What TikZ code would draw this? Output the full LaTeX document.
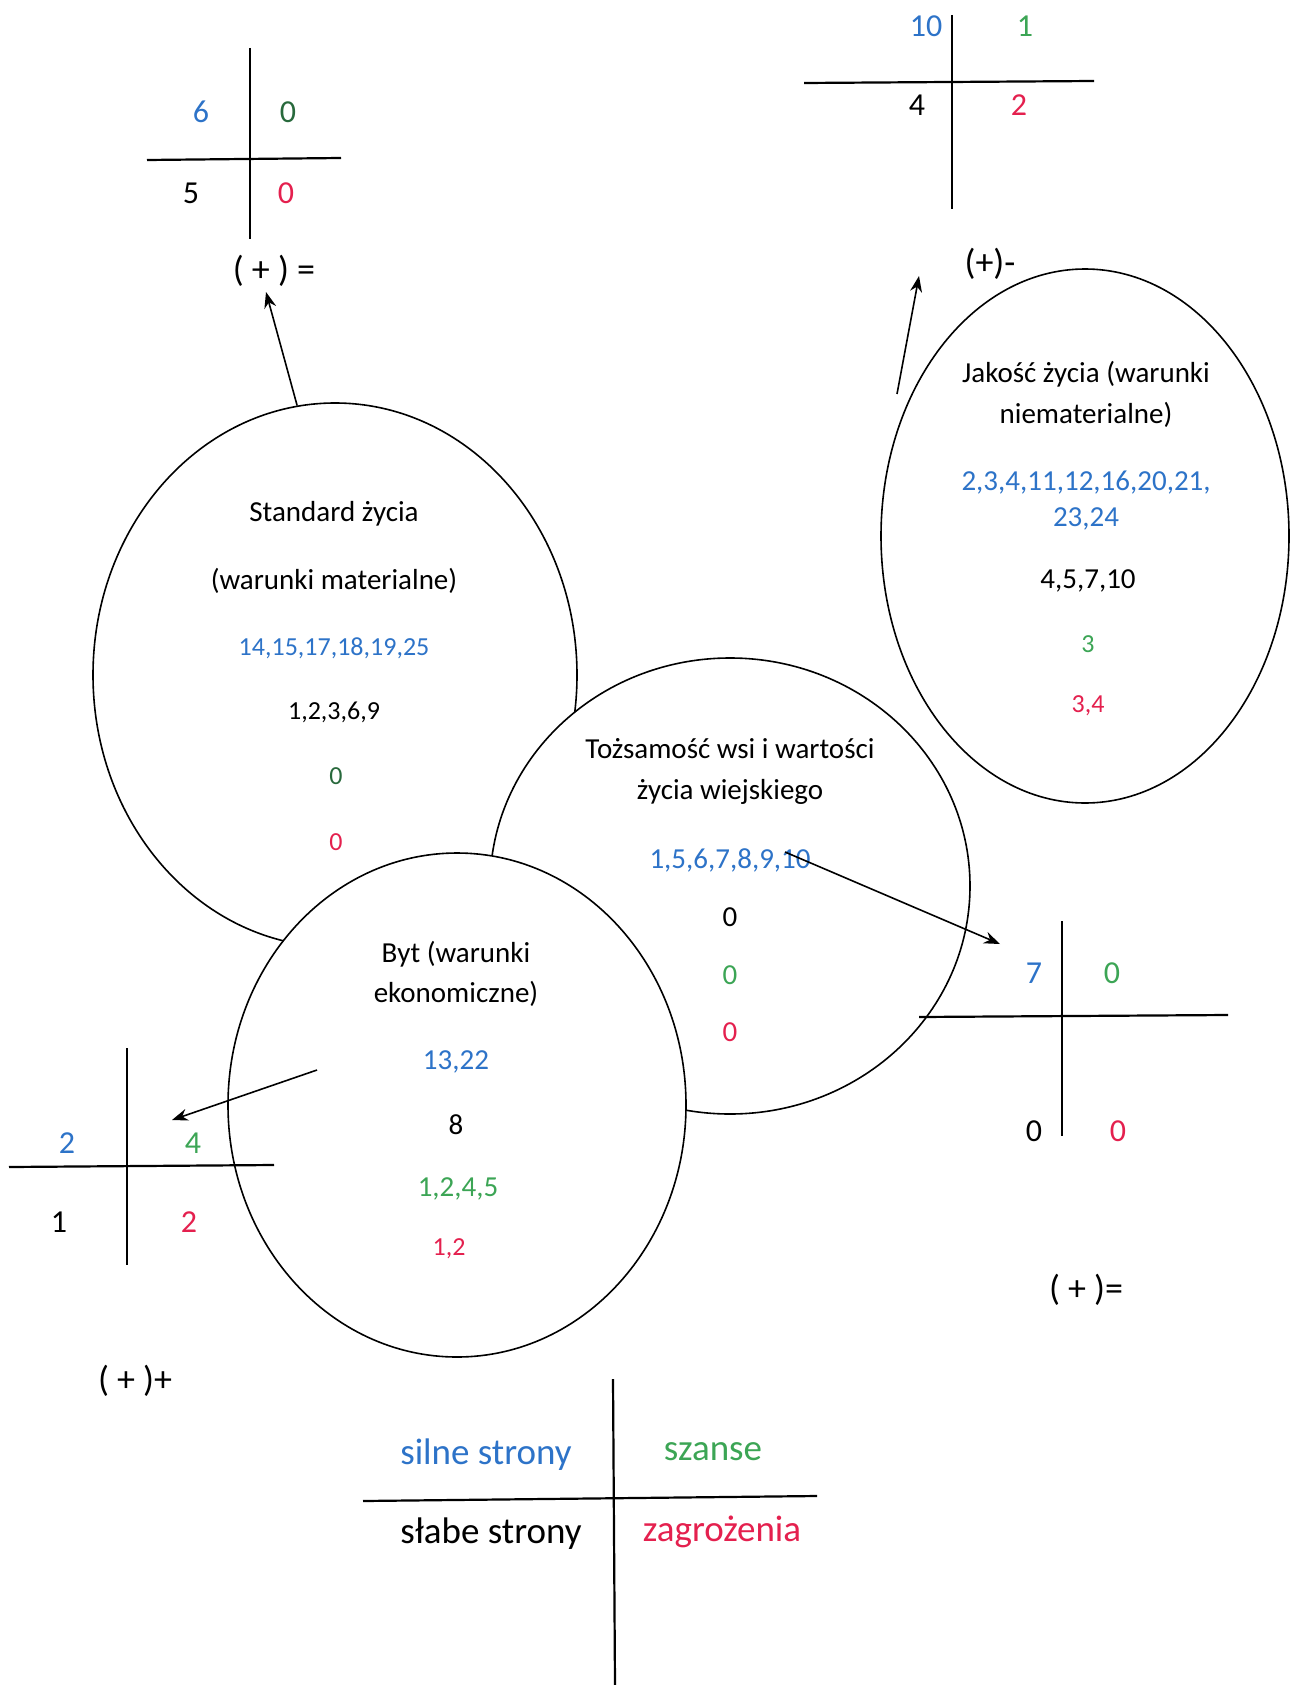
\documentclass[tikz,border=0pt]{standalone}
\usepackage{fontspec}
\setmainfont{Carlito}
\usetikzlibrary{arrows.meta, shapes.geometric}

\definecolor{swblue}{RGB}{45,115,200}
\definecolor{swgreen}{RGB}{60,165,85}
\definecolor{swdkgreen}{RGB}{40,105,60}
\definecolor{swred}{RGB}{228,32,78}

\tikzset{
  area/.style={ellipse, draw, fill=white, line width=0.8pt, inner sep=0pt},
  txt/.style={font=\fontsize{14.5}{17}\selectfont},
  sm/.style={font=\fontsize{13}{15}\selectfont},
  qnum/.style={font=\fontsize{16}{19}\selectfont},
  res/.style={font=\fontsize{18}{21}\selectfont},
  legend/.style={font=\fontsize{18.5}{22}\selectfont},
  qline/.style={line width=1.1pt},
  link/.style={line width=0.8pt, -{Stealth[length=8pt, width=6pt]}}
}

\begin{document}
\begin{tikzpicture}[x=0.5pt, y=-0.5pt]
\useasboundingbox (0,0) rectangle (1293,1685);

% Standard zycia
\node[area, minimum width=242pt, minimum height=272pt] (std) at (335,675) {};
\node[txt] (std1) at (334,514) {Standard życia};
\node[txt] (std2) at (334,581) {(warunki materialne)};
\node[sm, text=swblue] (std3) at (334,648) {14,15,17,18,19,25};
\node[sm] (std4) at (334,712) {1,2,3,6,9};
\node[sm, text=swdkgreen] (std5) at (336,776) {0};
\node[sm, text=swred] (std6) at (336,842) {0};

% Jakosc zycia
\node[area, minimum width=204pt, minimum height=267pt] (jak) at (1085,536) {};
\node[txt] (jak1) at (1086,374) {Jakość życia (warunki};
\node[txt] (jak2) at (1086,415) {niematerialne)};
\node[txt, text=swblue] (jak3) at (1086,483) {2,3,4,11,12,16,20,21,};
\node[txt, text=swblue] (jak4) at (1086,519) {23,24};
\node[txt] (jak5) at (1088,581) {4,5,7,10};
\node[sm, text=swgreen] (jak6) at (1088,644) {3};
\node[sm, text=swred] (jak7) at (1088,706) {3,4};

% Tozsamosc wsi
\node[area, minimum width=240pt, minimum height=228pt] (toz) at (730,886) {};
\node[txt] (toz1) at (730,749) {Tożsamość wsi i wartości};
\node[txt] (toz2) at (730,792) {życia wiejskiego};
\node[txt, text=swblue] (toz3) at (730,860) {1,5,6,7,8,9,10};
\node[txt] (toz4) at (730,917) {0};
\node[txt, text=swgreen] (toz5) at (730,975) {0};
\node[txt, text=swred] (toz6) at (730,1032) {0};

% Byt
\node[area, minimum width=229pt, minimum height=252pt] (byt) at (457,1105) {};
\node[txt] (byt1) at (456,954) {Byt (warunki};
\node[txt] (byt2) at (456,994) {ekonomiczne)};
\node[txt, text=swblue] (byt3) at (456,1062) {13,22};
\node[txt] (byt4) at (456,1125) {8};
\node[txt, text=swgreen] (byt5) at (458,1189) {1,2,4,5};
\node[sm, text=swred] (byt6) at (449,1249) {1,2};

% wyniki
\draw[qline] (250,48) -- (250,239);
\draw[qline] (147,160) -- (341,158);
\node[qnum, text=swblue] (qa1) at (201,112) {6};
\node[qnum, text=swdkgreen] (qa2) at (288,112) {0};
\node[qnum] (qa3) at (191,193) {5};
\node[qnum, text=swred] (qa4) at (286,193) {0};
\node[res] (ra) at (274,271) {( + ) =};

\draw[qline] (952,15) -- (952,209);
\draw[qline] (804,83) -- (1094,81);
\node[qnum, text=swblue] (qb1) at (926,26) {10};
\node[qnum, text=swgreen] (qb2) at (1025,26) {1};
\node[qnum] (qb3) at (917,105) {4};
\node[qnum, text=swred] (qb4) at (1019,105) {2};
\node[res] (rb) at (990,264) {(+)-};

\draw[qline] (1062,921) -- (1062,1136);
\draw[qline] (919,1017) -- (1228,1015);
\node[qnum, text=swblue] (qc1) at (1034,973) {7};
\node[qnum, text=swgreen] (qc2) at (1112,973) {0};
\node[qnum] (qc3) at (1034,1131) {0};
\node[qnum, text=swred] (qc4) at (1118,1131) {0};
\node[res] (rc) at (1086,1290) {( + )=};

\draw[qline] (127,1048) -- (127,1265);
\draw[qline] (9,1167) -- (274,1165);
\node[qnum, text=swblue] (qd1) at (67,1143) {2};
\node[qnum, text=swgreen] (qd2) at (193,1143) {4};
\node[qnum] (qd3) at (59,1222) {1};
\node[qnum, text=swred] (qd4) at (189,1222) {2};
\node[res] (rd) at (135,1381) {( + )+};

% strzalki
\coordinate (tipA) at (266,292);
\coordinate (jakTail) at (897,394);
\coordinate (tipB) at (919,276);
\coordinate (tozTail) at (785,852);
\coordinate (tipC) at (1000,944);
\coordinate (bytTail) at (317,1070);
\coordinate (tipD) at (172,1120);
\draw[link] (std.98) -- (tipA);
\draw[link] (jakTail) -- (tipB);
\draw[link] (tozTail) -- (tipC);
\draw[link] (bytTail) -- (tipD);

% legenda
\draw[qline] (613,1379) -- (615,1685);
\draw[qline] (363,1501) -- (817,1496);
\node[legend, text=swblue] (sil) at (486,1455) {silne strony};
\node[legend, text=swgreen] (sza) at (713,1452) {szanse};
\node[legend] (sla) at (491,1534) {słabe strony};
\node[legend, text=swred] (zag) at (722,1532) {zagrożenia};
\end{tikzpicture}
\end{document}
